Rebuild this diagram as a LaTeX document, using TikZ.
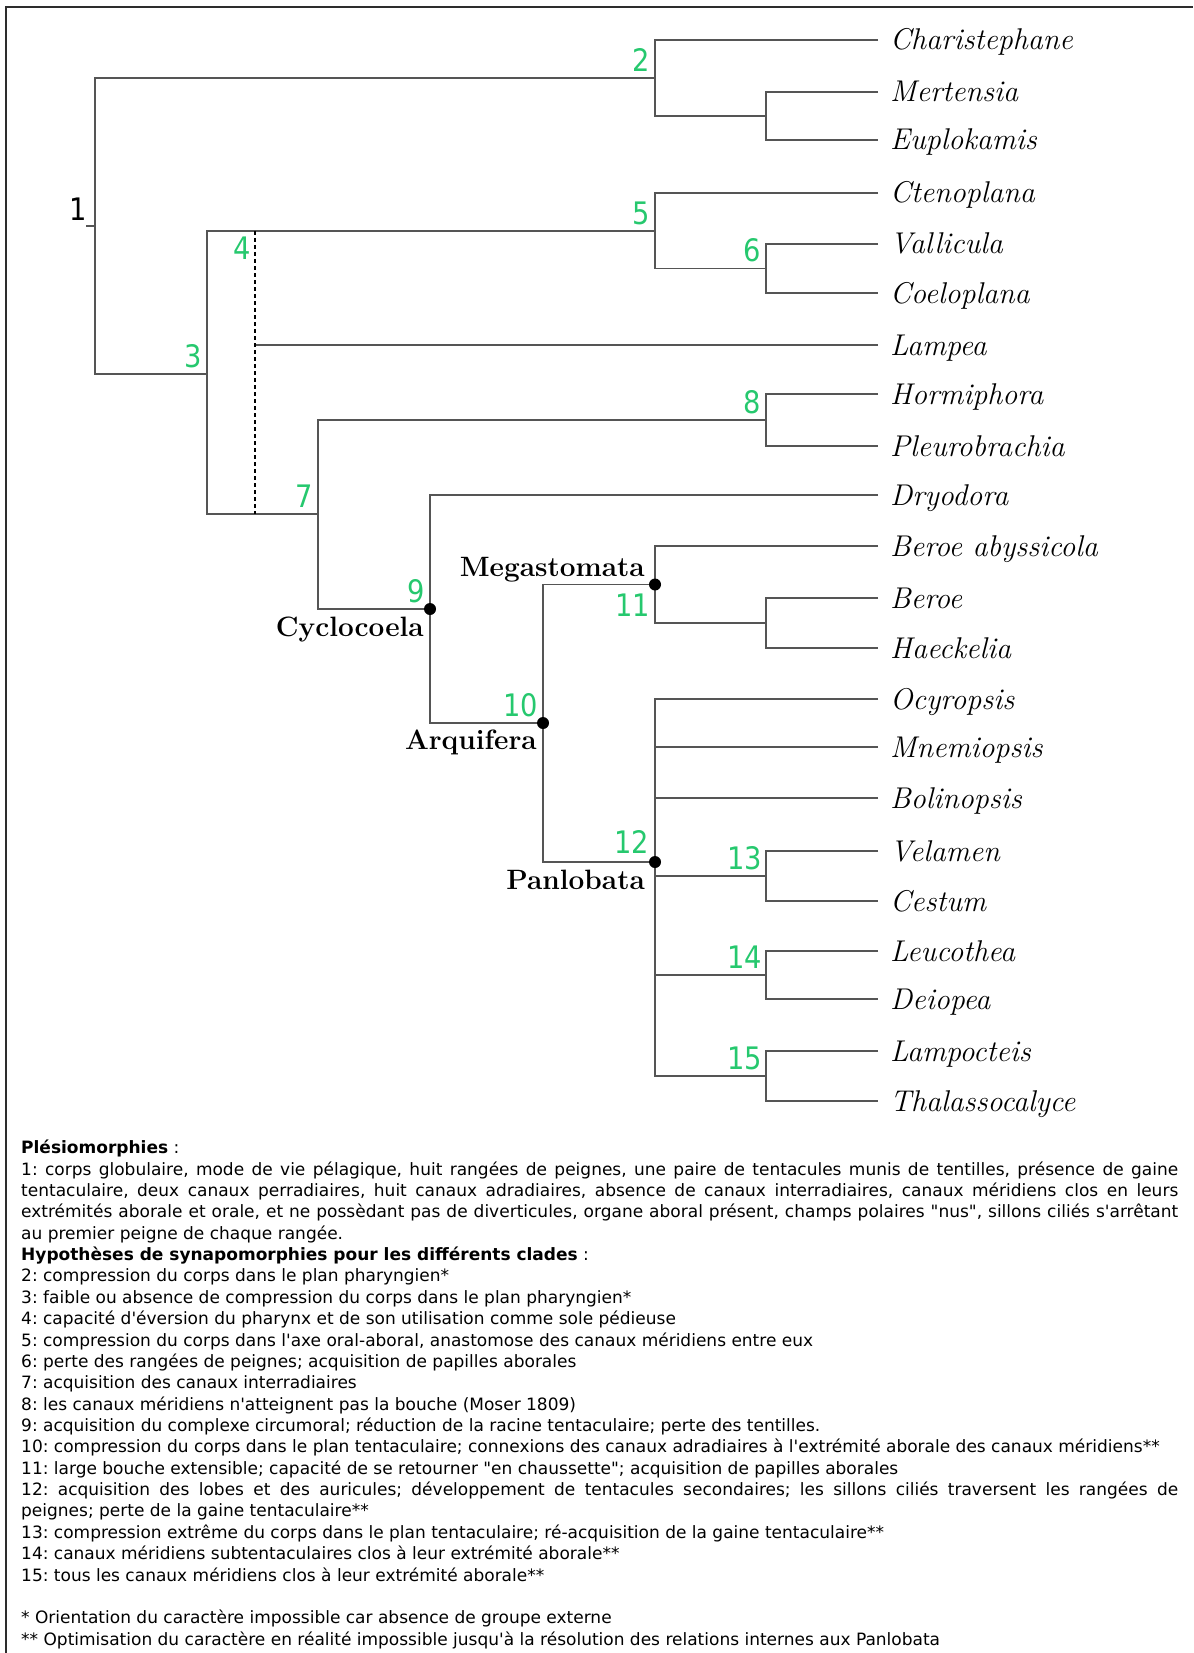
\documentclass[tikz,border=0pt]{standalone}
\usepackage{fontspec}
\usetikzlibrary{positioning}

\newfontfamily\legendfont{DejaVu Sans}
\newfontfamily\numberfont{DejaVu Sans}[FakeStretch=0.88]

\definecolor{synapogreen}{RGB}{38,200,110}
\definecolor{branchgray}{RGB}{85,85,85}
\definecolor{framegray}{RGB}{45,45,45}

\begin{document}
\begin{tikzpicture}[
    x=1pt, y=-1pt,
    branch/.style={draw=branchgray, line width=1.5pt},
    branch_dashed/.style={draw=black, line width=1.1pt, dash pattern=on 4pt off 3pt},
    taxon/.style={anchor=west, inner xsep=12pt, inner ysep=0pt, text height=22pt, text depth=2pt, font=\fontsize{30}{36}\selectfont\itshape},
    clade/.style={inner sep=2pt, font=\fontsize{28}{34}\selectfont\bfseries},
    synapo/.style={inner sep=3pt, text=synapogreen, font=\numberfont\fontsize{31}{36}\selectfont},
    root_label/.style={synapo, inner sep=2pt, text=black},
    dot/.style={circle, fill=black, inner sep=0pt, minimum size=12pt},
    legend/.style={anchor=north west, inner sep=0pt, text width=1157pt, align=justify, font=\legendfont\fontsize{17}{21.36}\selectfont\frenchspacing},
]
    \useasboundingbox (0, 0) rectangle (1193, 1653);
    \draw[framegray, line width=2.5pt] (6, 1653) -- (6, 7) -- (1193, 7);

    % taxa
    \node(charistephane)[taxon] at (878, 40) {Charistephane};
    \node(mertensia)[taxon] at (878, 92) {Mertensia};
    \node(euplokamis)[taxon] at (878, 140) {Euplokamis};
    \node(ctenoplana)[taxon] at (878, 193) {Ctenoplana};
    \node(vallicula)[taxon] at (878, 244) {Vallicula};
    \node(coeloplana)[taxon] at (878, 293) {Coeloplana};
    \node(lampea)[taxon] at (878, 345) {Lampea};
    \node(hormiphora)[taxon] at (878, 394) {Hormiphora};
    \node(pleurobrachia)[taxon] at (878, 446) {Pleurobrachia};
    \node(dryodora)[taxon] at (878, 495) {Dryodora};
    \node(beroe_abyssicola)[taxon] at (878, 546) {Beroe abyssicola};
    \node(beroe)[taxon] at (878, 598) {Beroe};
    \node(haeckelia)[taxon] at (878, 648) {Haeckelia};
    \node(ocyropsis)[taxon] at (878, 699) {Ocyropsis};
    \node(mnemiopsis)[taxon] at (878, 747) {Mnemiopsis};
    \node(bolinopsis)[taxon] at (878, 798) {Bolinopsis};
    \node(velamen)[taxon] at (878, 851) {Velamen};
    \node(cestum)[taxon] at (878, 901) {Cestum};
    \node(leucothea)[taxon] at (878, 951) {Leucothea};
    \node(deiopea)[taxon] at (878, 999) {Deiopea};
    \node(lampocteis)[taxon] at (878, 1051) {Lampocteis};
    \node(thalassocalyce)[taxon] at (878, 1101) {Thalassocalyce};

    % internal nodes
    \coordinate(root_stub) at (86, 226);
    \coordinate(root) at (95, 226);
    \coordinate(n2) at (655, 78);
    \coordinate(n_mer) at (766, 116);
    \coordinate(n3) at (207, 374);
    \coordinate(n4) at (255, 231);
    \coordinate(n4_base) at (255, 514);
    \coordinate(n5) at (655, 231);
    \coordinate(n6) at (766, 268.5);
    \coordinate(n7) at (318, 514);
    \coordinate(n8) at (766, 420);
    \coordinate(n9) at (430, 609);
    \coordinate(n10) at (543, 723);
    \coordinate(n11) at (655, 584.5);
    \coordinate(n_ber) at (766, 623);
    \coordinate(n12) at (655, 862);
    \coordinate(n13) at (766, 876);
    \coordinate(n14) at (766, 975);
    \coordinate(n15) at (766, 1076);

    % branches
    \draw[branch] (root_stub) -- (root);
    \draw[branch] (n2) -| (root) |- (n3);
    \draw[branch] (charistephane.west) -| (n2) |- (n_mer);
    \draw[branch] (mertensia.west) -| (n_mer) |- (euplokamis.west);
    \draw[branch] (n5) -| (n3) |- (n7);
    \draw[branch] (ctenoplana.west) -| (n5) |- (n6);
    \draw[branch] (vallicula.west) -| (n6) |- (coeloplana.west);
    \draw[branch] (lampea.west) -- (lampea.west -| n4);
    \draw[branch] (n8) -| (n7) |- (n9);
    \draw[branch] (hormiphora.west) -| (n8) |- (pleurobrachia.west);
    \draw[branch] (dryodora.west) -| (n9) |- (n10);
    \draw[branch] (n11) -| (n10) |- (n12);
    \draw[branch] (beroe_abyssicola.west) -| (n11) |- (n_ber);
    \draw[branch] (beroe.west) -| (n_ber) |- (haeckelia.west);
    \draw[branch] (ocyropsis.west) -| (n12) |- (n15);
    \draw[branch] (mnemiopsis.west) -- (mnemiopsis.west -| n12);
    \draw[branch] (bolinopsis.west) -- (bolinopsis.west -| n12);
    \draw[branch] (n13) -- (n13 -| n12);
    \draw[branch] (n14) -- (n14 -| n12);
    \draw[branch] (velamen.west) -| (n13) |- (cestum.west);
    \draw[branch] (leucothea.west) -| (n14) |- (deiopea.west);
    \draw[branch] (lampocteis.west) -| (n15) |- (thalassocalyce.west);
    \draw[branch_dashed] (n4) -- (n4_base);

    % named clades
    \node(cyclocoela_dot)[dot] at (n9) {};
    \node(arquifera_dot)[dot] at (n10) {};
    \node(megastomata_dot)[dot] at (n11) {};
    \node(panlobata_dot)[dot] at (n12) {};
    \node(cyclocoela)[clade, below left=6pt and 4pt of n9] {Cyclocoela};
    \node(arquifera)[clade, below left=5pt and 4pt of n10] {Arquifera};
    \node(megastomata)[clade, above left=0pt and 8pt of n11] {Megastomata};
    \node(panlobata)[clade, below left=6pt and 8pt of n12] {Panlobata};

    % synapomorphies
    \node(syn1)[root_label, above left=3pt and -3pt of root_stub] {1};
    \node(syn2)[synapo, above left=3pt and 2pt of n2] {2};
    \node(syn3)[synapo, above left=3pt and 2pt of n3] {3};
    \node(syn4)[synapo, below left=3pt and 1pt of n4] {4};
    \node(syn5)[synapo, above left=3pt and 2pt of n5] {5};
    \node(syn6)[synapo, above left=3pt and 2pt of n6] {6};
    \node(syn7)[synapo, above left=3pt and 2pt of n7] {7};
    \node(syn8)[synapo, above left=3pt and 2pt of n8] {8};
    \node(syn9)[synapo, above left=3pt and 2pt of n9] {9};
    \node(syn10)[synapo, above left=3pt and 2pt of n10] {10};
    \node(syn11)[synapo, below left=6pt and 2pt of n11] {11};
    \node(syn12)[synapo, above left=5pt and 3pt of n12] {12};
    \node(syn13)[synapo, above left=3pt and 1pt of n13] {13};
    \node(syn14)[synapo, above left=3pt and 1pt of n14] {14};
    \node(syn15)[synapo, above left=3pt and 1pt of n15] {15};

    % legend
    \node(legend)[legend] at (21, 1140) {\parindent=0pt\hyphenpenalty=10000\exhyphenpenalty=10000
    \textbf{Plésiomorphies} :\par
    1: corps globulaire, mode de vie pélagique, huit rangées de peignes, une paire de tentacules munis de tentilles, présence de gaine\linebreak
    tentaculaire, deux canaux perradiaires, huit canaux adradiaires, absence de canaux interradiaires, canaux méridiens clos en leurs\linebreak
    extrémités aborale et orale, et ne possèdant pas de diverticules, organe aboral présent, champs polaires "nus", sillons ciliés s'arrêtant\linebreak
    au premier peigne de chaque rangée.\par
    \textbf{Hypothèses de synapomorphies pour les différents clades} :\par
    2: compression du corps dans le plan pharyngien*\par
    3: faible ou absence de compression du corps dans le plan pharyngien*\par
    4: capacité d'éversion du pharynx et de son utilisation comme sole pédieuse\par
    5: compression du corps dans l'axe oral-aboral, anastomose des canaux méridiens entre eux\par
    6: perte des rangées de peignes; acquisition de papilles aborales\par
    7: acquisition des canaux interradiaires\par
    8: les canaux méridiens n'atteignent pas la bouche (Moser 1809)\par
    9: acquisition du complexe circumoral; réduction de la racine tentaculaire; perte des tentilles.\par
    10: compression du corps dans le plan tentaculaire; connexions des canaux adradiaires à l'extrémité aborale des canaux méridiens**\par
    11: large bouche extensible; capacité de se retourner "en chaussette"; acquisition de papilles aborales\par
    12: acquisition des lobes et des auricules; développement de tentacules secondaires; les sillons ciliés traversent les rangées de\linebreak
    peignes; perte de la gaine tentaculaire**\par
    13: compression extrême du corps dans le plan tentaculaire; ré-acquisition de la gaine tentaculaire**\par
    14: canaux méridiens subtentaculaires clos à leur extrémité aborale**\par
    15: tous les canaux méridiens clos à leur extrémité aborale**\par
    \mbox{}\par
    * Orientation du caractère impossible car absence de groupe externe\par
    ** Optimisation du caractère en réalité impossible jusqu'à la résolution des relations internes aux Panlobata};
\end{tikzpicture}
\end{document}
